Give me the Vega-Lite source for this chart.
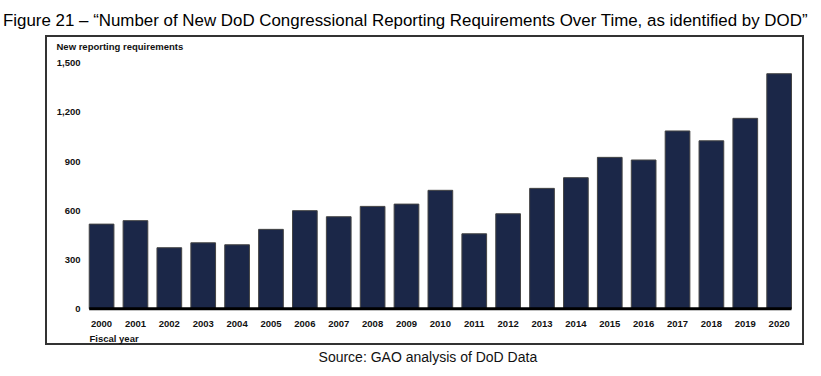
{
  "$schema": "https://vega.github.io/schema/vega-lite/v6.json",
  "width": 757,
  "height": 308,
  "autosize": {"type": "none"},
  "padding": {"left": 46, "top": 36, "right": 18, "bottom": 32},
  "background": "white",
  "title": {
    "text": "Figure 21 – “Number of New DoD Congressional Reporting Requirements Over Time, as identified by DOD”",
    "anchor": "start",
    "frame": "group",
    "dx": -43,
    "dy": 19,
    "offset": 12,
    "baseline": "alphabetic",
    "font": "Liberation Sans",
    "fontSize": 16.9,
    "fontWeight": "normal",
    "color": "#000000"
  },
  "config": {
    "view": {"stroke": "#333333", "strokeWidth": 2},
    "axis": {"labelFont": "Liberation Sans", "titleFont": "Liberation Sans", "labelColor": "#111111", "titleColor": "#111111"}
  },
  "layer": [
    {
      "data": {
        "values": [
          {"year": "2000", "value": 516},
          {"year": "2001", "value": 537},
          {"year": "2002", "value": 372},
          {"year": "2003", "value": 402},
          {"year": "2004", "value": 390},
          {"year": "2005", "value": 484},
          {"year": "2006", "value": 598},
          {"year": "2007", "value": 561},
          {"year": "2008", "value": 624},
          {"year": "2009", "value": 638},
          {"year": "2010", "value": 722},
          {"year": "2011", "value": 457},
          {"year": "2012", "value": 579},
          {"year": "2013", "value": 734},
          {"year": "2014", "value": 799},
          {"year": "2015", "value": 923},
          {"year": "2016", "value": 907},
          {"year": "2017", "value": 1084},
          {"year": "2018", "value": 1024},
          {"year": "2019", "value": 1161},
          {"year": "2020", "value": 1433}
        ]
      },
      "mark": {"type": "bar", "fill": "#1b2748", "stroke": "#444444", "strokeWidth": 1},
      "encoding": {
        "x": {
          "field": "year",
          "type": "ordinal",
          "scale": {"paddingInner": 0.271, "paddingOuter": 0.8075, "align": 0.79},
          "axis": {
            "title": "Fiscal year",
            "orient": "bottom",
            "offset": -35.3,
            "domain": false,
            "ticks": false,
            "grid": false,
            "labelAngle": 0,
            "labelPadding": 10,
            "labelFontSize": 9.5,
            "labelFontWeight": "bold",
            "titleFontSize": 9.5,
            "titleFontWeight": "bold",
            "titleAlign": "left",
            "titleBaseline": "middle",
            "titleX": 43,
            "titleY": 29.5
          }
        },
        "y": {
          "field": "value",
          "type": "quantitative",
          "scale": {"domain": [-215, 1663], "nice": false, "zero": false},
          "axis": {
            "title": "New reporting requirements",
            "values": [0, 300, 600, 900, 1200, 1500],
            "format": ",d",
            "offset": -42,
            "domain": false,
            "ticks": false,
            "grid": false,
            "labelPadding": 8,
            "labelFontSize": 9.5,
            "labelFontWeight": "bold",
            "titleFontSize": 9.5,
            "titleFontWeight": "bold",
            "titleAngle": 0,
            "titleAlign": "left",
            "titleBaseline": "middle",
            "titleX": -32,
            "titleY": 10.5
          }
        }
      }
    },
    {
      "data": {"values": [{"start": "2000", "end": "2020"}]},
      "mark": {"type": "rule", "stroke": "#000000", "strokeWidth": 3},
      "encoding": {
        "x": {"field": "start", "type": "ordinal", "bandPosition": 0},
        "x2": {"field": "end", "bandPosition": 1},
        "y": {"datum": 0, "type": "quantitative"}
      }
    },
    {
      "data": {"values": [{"source": "Source: GAO analysis of DoD Data"}]},
      "mark": {"type": "text", "font": "Liberation Sans", "fontSize": 14, "color": "#111111", "align": "center", "baseline": "middle", "dx": -12.5},
      "encoding": {
        "text": {"field": "source"},
        "x": {"datum": "2010", "type": "ordinal"},
        "y": {"datum": -300, "type": "quantitative"}
      }
    }
  ]
}
